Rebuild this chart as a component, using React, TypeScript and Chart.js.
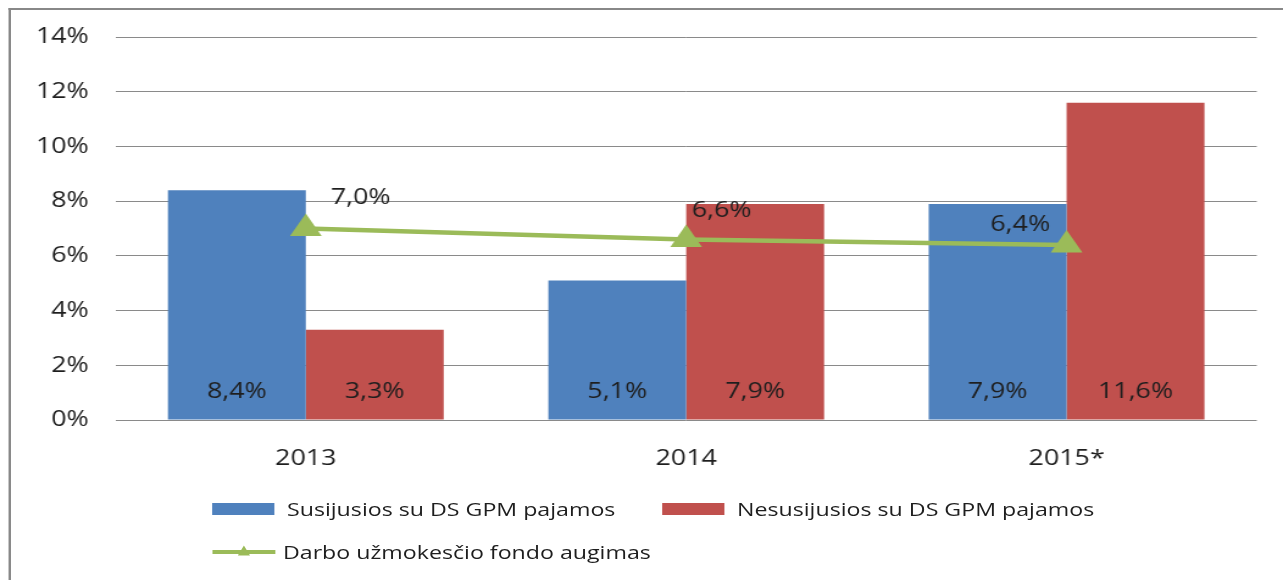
import React, { useEffect, useRef } from "react";
import { Chart, registerables } from "chart.js";

Chart.register(...registerables);

// ---- data ----
const categories = ["2013", "2014", "2015*"];
const relatedValues = [8.4, 5.1, 7.9];
const unrelatedValues = [3.3, 7.9, 11.6];
const wageFundValues = [7.0, 6.6, 6.4];
const yTickValues = [0, 2, 4, 6, 8, 10, 12, 14];
const seriesNames = [
  "Susijusios su DS GPM pajamos",
  "Nesusijusios su DS GPM pajamos",
  "Darbo užmokesčio fondo augimas",
];

// ---- styles ----
const FULL_W = 1283;
const H = 580;
const W = 1052; // drawing width before horizontal stretch
const S = FULL_W / W; // the reference is horizontally stretched
const FONT = "'Open Sans', 'Liberation Sans', sans-serif";
const TEXT = "#1e1e1e";
const BLUE = "#4F81BD";
const RED = "#C0504D";
const GREEN = "#9BBB59";
const GRID = "#8a8a8a";
const LINE_LABEL_OFFSETS: [number, number][] = [
  [45, -31],
  [29, -29],
  [-38, -20],
];

const fmt = (v: number) => v.toFixed(1).replace(".", ",") + "%";

const labelPlugin = {
  id: "valueLabels",
  afterDatasetsDraw(chart: any) {
    const ctx = chart.ctx;
    ctx.save();
    ctx.font = `22px ${FONT}`;
    ctx.fillStyle = TEXT;
    ctx.textAlign = "center";
    ctx.textBaseline = "middle";
    const base = chart.scales.y.getPixelForValue(0);
    [0, 1].forEach((di) => {
      const meta = chart.getDatasetMeta(di);
      meta.data.forEach((bar: any, i: number) => {
        ctx.fillText(fmt(chart.data.datasets[di].data[i] as number), bar.x, base - 28);
      });
    });
    const lm = chart.getDatasetMeta(2);
    lm.data.forEach((pt: any, i: number) => {
      const [dx, dy] = LINE_LABEL_OFFSETS[i];
      ctx.fillText(fmt(chart.data.datasets[2].data[i] as number), pt.x + dx, pt.y + dy);
    });
    ctx.restore();
  },
};

export default function App() {
  const ref = useRef<HTMLCanvasElement | null>(null);

  useEffect(() => {
    if (!ref.current) return;
    const chart = new Chart(ref.current, {
      type: "bar",
      data: {
        labels: categories,
        datasets: [
          {
            type: "bar",
            label: seriesNames[0],
            data: relatedValues,
            backgroundColor: BLUE,
            categoryPercentage: 0.725,
            barPercentage: 1,
            order: 2,
          },
          {
            type: "bar",
            label: seriesNames[1],
            data: unrelatedValues,
            backgroundColor: RED,
            categoryPercentage: 0.725,
            barPercentage: 1,
            order: 2,
          },
          {
            type: "line",
            label: seriesNames[2],
            data: wageFundValues,
            borderColor: GREEN,
            backgroundColor: GREEN,
            borderWidth: 4.5,
            pointStyle: "triangle",
            pointRadius: 15,
            pointBorderWidth: 0,
            pointBackgroundColor: GREEN,
            tension: 0,
            order: 0,
          } as any,
        ],
      },
      options: {
        animation: false,
        responsive: false,
        devicePixelRatio: 1,
        layout: { padding: { top: 37, left: 0, right: 21.5, bottom: 100 } },
        plugins: {
          legend: { display: false },
          tooltip: { enabled: false },
          title: { display: false },
        },
        scales: {
          x: {
            grid: { display: false },
            border: { display: false },
            ticks: {
              color: TEXT,
              font: { family: FONT, size: 22 },
              padding: 18,
            },
            afterFit: (s: any) => {
              s.height = 60;
            },
          },
          y: {
            min: 0,
            max: 14,
            afterBuildTicks: (s: any) => {
              s.ticks = yTickValues.map((v) => ({ value: v }));
            },
            grid: { color: GRID, lineWidth: 1, drawTicks: false },
            border: { display: false },
            ticks: {
              color: TEXT,
              font: { family: FONT, size: 22 },
              padding: 22,
              callback: (v: any) => `${v}%`,
            },
            afterFit: (s: any) => {
              s.width = 94.8;
            },
          },
        },
      },
      plugins: [labelPlugin],
    });
    return () => chart.destroy();
  }, []);

  const legendText: React.CSSProperties = {
    position: "absolute",
    fontFamily: FONT,
    fontSize: 19,
    lineHeight: "24px",
    height: 24,
    color: TEXT,
    whiteSpace: "nowrap",
  };

  return (
    <div
      style={{
        position: "fixed",
        left: 0,
        top: 0,
        width: FULL_W,
        height: H,
        overflow: "hidden",
        background: "#ffffff",
      }}
    >
      <div
        style={{
          position: "absolute",
          left: 0,
          top: 0,
          width: W,
          height: H,
          transform: `scaleX(${S})`,
          transformOrigin: "0 0",
        }}
      >
        <div
          style={{
            position: "absolute",
            left: 7.4,
            top: 8,
            width: 2000,
            height: 1000,
            borderTop: "2px solid #888888",
            borderLeft: "2px solid #888888",
          }}
        />
        <canvas
          ref={ref}
          width={W}
          height={H}
          style={{ position: "absolute", left: 0, top: 0, width: W, height: H }}
        />
        {/* legend row 1 */}
        <div style={{ position: "absolute", left: 173.8, top: 502.5, width: 51.7, height: 12, background: BLUE }} />
        <div style={{ ...legendText, left: 235.3, top: 496.5 }}>{seriesNames[0]}</div>
        <div style={{ position: "absolute", left: 542.8, top: 502.5, width: 51.7, height: 12, background: RED }} />
        <div style={{ ...legendText, left: 604.3, top: 496.5 }}>{seriesNames[1]}</div>
        {/* legend row 2 */}
        <svg
          style={{ position: "absolute", left: 173.8, top: 540 }}
          width={52}
          height={24}
          viewBox="0 0 52 24"
        >
          <line x1={0} y1={12} x2={52} y2={12} stroke={GREEN} strokeWidth={4} />
          <polygon points="26,5.5 21,15.5 31,15.5" fill={GREEN} />
        </svg>
        <div style={{ ...legendText, left: 232, top: 539.5 }}>{seriesNames[2]}</div>
      </div>
    </div>
  );
}
